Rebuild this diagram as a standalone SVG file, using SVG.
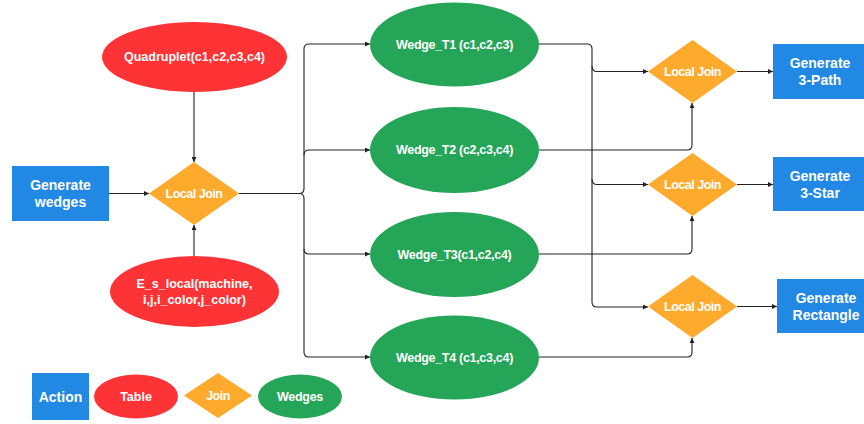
<svg xmlns="http://www.w3.org/2000/svg" width="864" height="424" viewBox="0 0 864 424">
<defs>
<style>
.act{fill:#2188e3}
.tab{fill:#fe3335}
.join{fill:#fdaa2d}
.wed{fill:#25a557}
.t{font-family:"Liberation Sans",Arial,sans-serif;font-weight:bold;font-size:12.5px;fill:#ffffff;text-anchor:middle;dominant-baseline:central}
.ta{font-size:14px}
.tj{font-size:12.5px;letter-spacing:-0.5px}
.tw{font-size:12.5px;letter-spacing:-0.3px}
.c{fill:none;stroke:#222;stroke-width:1.1}
</style>
<marker id="ah" viewBox="0 0 6 6" refX="6" refY="3" markerWidth="5" markerHeight="5" orient="auto" markerUnits="userSpaceOnUse">
<path d="M0,0 L6,3 L0,6 z" fill="#222"/>
</marker>
</defs>
<rect width="864" height="424" fill="#ffffff"/>
<g id="connectors">
<path class="c" d="M194,92 V162" marker-end="url(#ah)"/>
<path class="c" d="M194,256 V225" marker-end="url(#ah)"/>
<path class="c" d="M109,193.5 H149" marker-end="url(#ah)"/>
<path class="c" d="M239,193.5 H299 Q304,193.5 304,188.5 V49 Q304,44 309,44 H370" marker-end="url(#ah)"/>
<path class="c" d="M304,155 Q304,150 309,150 H370" marker-end="url(#ah)"/>
<path class="c" d="M299,193.5 Q304,193.5 304,198.5 V249 Q304,254 309,254 H370" marker-end="url(#ah)"/>
<path class="c" d="M304,249 V352 Q304,357 309,357 H370" marker-end="url(#ah)"/>
<path class="c" d="M539,44 H587 Q592,44 592,49 V302 Q592,307 597,307 H648" marker-end="url(#ah)"/>
<path class="c" d="M592,66 Q592,71.5 597,71.5 H648" marker-end="url(#ah)"/>
<path class="c" d="M592,179 Q592,184.5 597,184.5 H648" marker-end="url(#ah)"/>
<path class="c" d="M539,150 H687 Q692,150 692,145 V103" marker-end="url(#ah)"/>
<path class="c" d="M539,254 H687 Q692,254 692,249 V216" marker-end="url(#ah)"/>
<path class="c" d="M539,357 H687 Q692,357 692,352 V338" marker-end="url(#ah)"/>
<path class="c" d="M737,71.5 H773" marker-end="url(#ah)"/>
<path class="c" d="M737,184.5 H773" marker-end="url(#ah)"/>
<path class="c" d="M737,306.5 H777" marker-end="url(#ah)"/>
</g>
<g id="quadruplet"><ellipse class="tab" cx="194.5" cy="57" rx="92.5" ry="35"/><text class="t" x="194.5" y="57">Quadruplet(c1,c2,c3,c4)</text></g>
<g id="gen-wedges"><rect class="act" x="12" y="166" width="97" height="55"/><text class="t ta" x="60.5" y="185">Generate</text><text class="t ta" x="60.5" y="202">wedges</text></g>
<g id="join0"><polygon class="join" points="194,162 239,193.5 194,225 149,193.5"/><text class="t tj" x="194" y="193.5">Local Join</text></g>
<g id="es-local"><ellipse class="tab" cx="194.5" cy="291.5" rx="84.5" ry="35.5"/><text class="t" x="194.5" y="284">E_s_local(machine,</text><text class="t" x="194.5" y="299.5">i,j,i_color,j_color)</text></g>
<g id="wedge-t1"><ellipse class="wed" cx="454.5" cy="44.5" rx="84.5" ry="42"/><text class="t tw" x="454.5" y="44.5">Wedge_T1 (c1,c2,c3)</text></g>
<g id="wedge-t2"><ellipse class="wed" cx="454.5" cy="150" rx="84.5" ry="43"/><text class="t tw" x="454.5" y="150">Wedge_T2 (c2,c3,c4)</text></g>
<g id="wedge-t3"><ellipse class="wed" cx="454.5" cy="254.5" rx="84.5" ry="42.5"/><text class="t tw" x="454.5" y="254.5">Wedge_T3(c1,c2,c4)</text></g>
<g id="wedge-t4"><ellipse class="wed" cx="454.5" cy="357.5" rx="84.5" ry="42"/><text class="t tw" x="454.5" y="357.5">Wedge_T4 (c1,c3,c4)</text></g>
<g id="join1"><polygon class="join" points="692.5,40 737,71.5 692.5,103 648,71.5"/><text class="t tj" x="692.5" y="71.5">Local Join</text></g>
<g id="join2"><polygon class="join" points="692.5,153 737,184.5 692.5,216 648,184.5"/><text class="t tj" x="692.5" y="184.5">Local Join</text></g>
<g id="join3"><polygon class="join" points="692.5,275 737,306.5 692.5,338 648,306.5"/><text class="t tj" x="692.5" y="306.5">Local Join</text></g>
<g id="gen-3path"><rect class="act" x="773" y="44" width="95" height="55"/><text class="t ta" x="820" y="63">Generate</text><text class="t ta" x="820" y="80">3-Path</text></g>
<g id="gen-3star"><rect class="act" x="773" y="157" width="95" height="54"/><text class="t ta" x="820" y="176">Generate</text><text class="t ta" x="820" y="193">3-Star</text></g>
<g id="gen-rect"><rect class="act" x="777" y="279" width="98" height="54"/><text class="t ta" x="826" y="298">Generate</text><text class="t ta" x="826" y="315">Rectangle</text></g>
<g id="legend-action"><rect class="act" x="32" y="373" width="57" height="47"/><text class="t ta" x="60.5" y="396.5">Action</text></g>
<g id="legend-table"><ellipse class="tab" cx="136" cy="396.5" rx="42" ry="22"/><text class="t" x="136" y="396.5">Table</text></g>
<g id="legend-join"><polygon class="join" points="218,373 252,395.5 218,418 184,395.5"/><text class="t tj" x="218" y="395.5">Join</text></g>
<g id="legend-wedges"><ellipse class="wed" cx="300" cy="396.5" rx="42" ry="22"/><text class="t tw" x="300" y="396.5">Wedges</text></g>
</svg>
